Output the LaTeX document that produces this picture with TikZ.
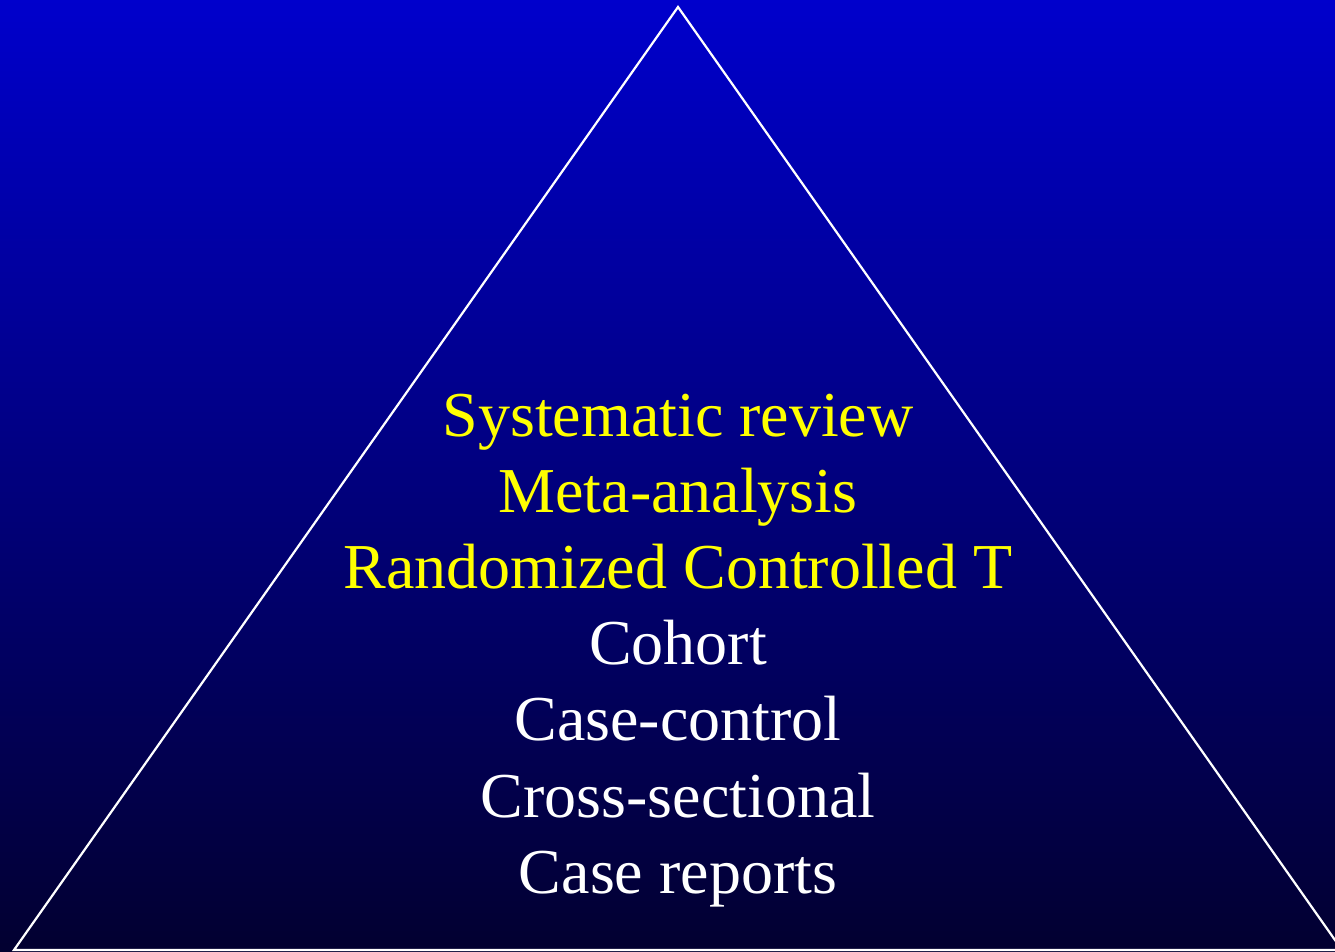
\documentclass[tikz,border=0pt]{standalone}
\usepackage{fontspec}
\setmainfont{Liberation Serif}
\definecolor{bgtop}{RGB}{0,0,204}
\definecolor{bgbot}{RGB}{2,0,48}
\definecolor{ylw}{RGB}{255,255,0}
\begin{document}
\begin{tikzpicture}[x=1pt,y=-1pt,
  lbl/.style={inner sep=0pt,anchor=base,font=\fontsize{64}{76}\selectfont},
  hi/.style={lbl,text=ylw},
  lo/.style={lbl,text=white}]
\useasboundingbox (0,0) rectangle (1335,952);
\shade[top color=bgtop,bottom color=bgbot] (0,0) rectangle (1335,952);
\begin{scope}
\clip (0,0) rectangle (1335,952);
\coordinate (apex) at (678,7);
\coordinate (bl) at (14,950);
\coordinate (br) at (1342,950);
\draw[white,line width=2.2pt,line join=miter] (apex) -- (bl) -- (br) -- cycle;
\end{scope}
\node[hi] (t1) at (678,436) {Systematic review};
\node[hi] (t2) at (678,512) {Meta-analysis};
\node[hi] (t3) at (678,588) {Randomized Controlled T};
\node[lo] (t4) at (678,664) {Cohort};
\node[lo] (t5) at (678,740) {Case-control};
\node[lo] (t6) at (678,817) {Cross-sectional};
\node[lo] (t7) at (678,893) {Case reports};
\end{tikzpicture}
\end{document}
